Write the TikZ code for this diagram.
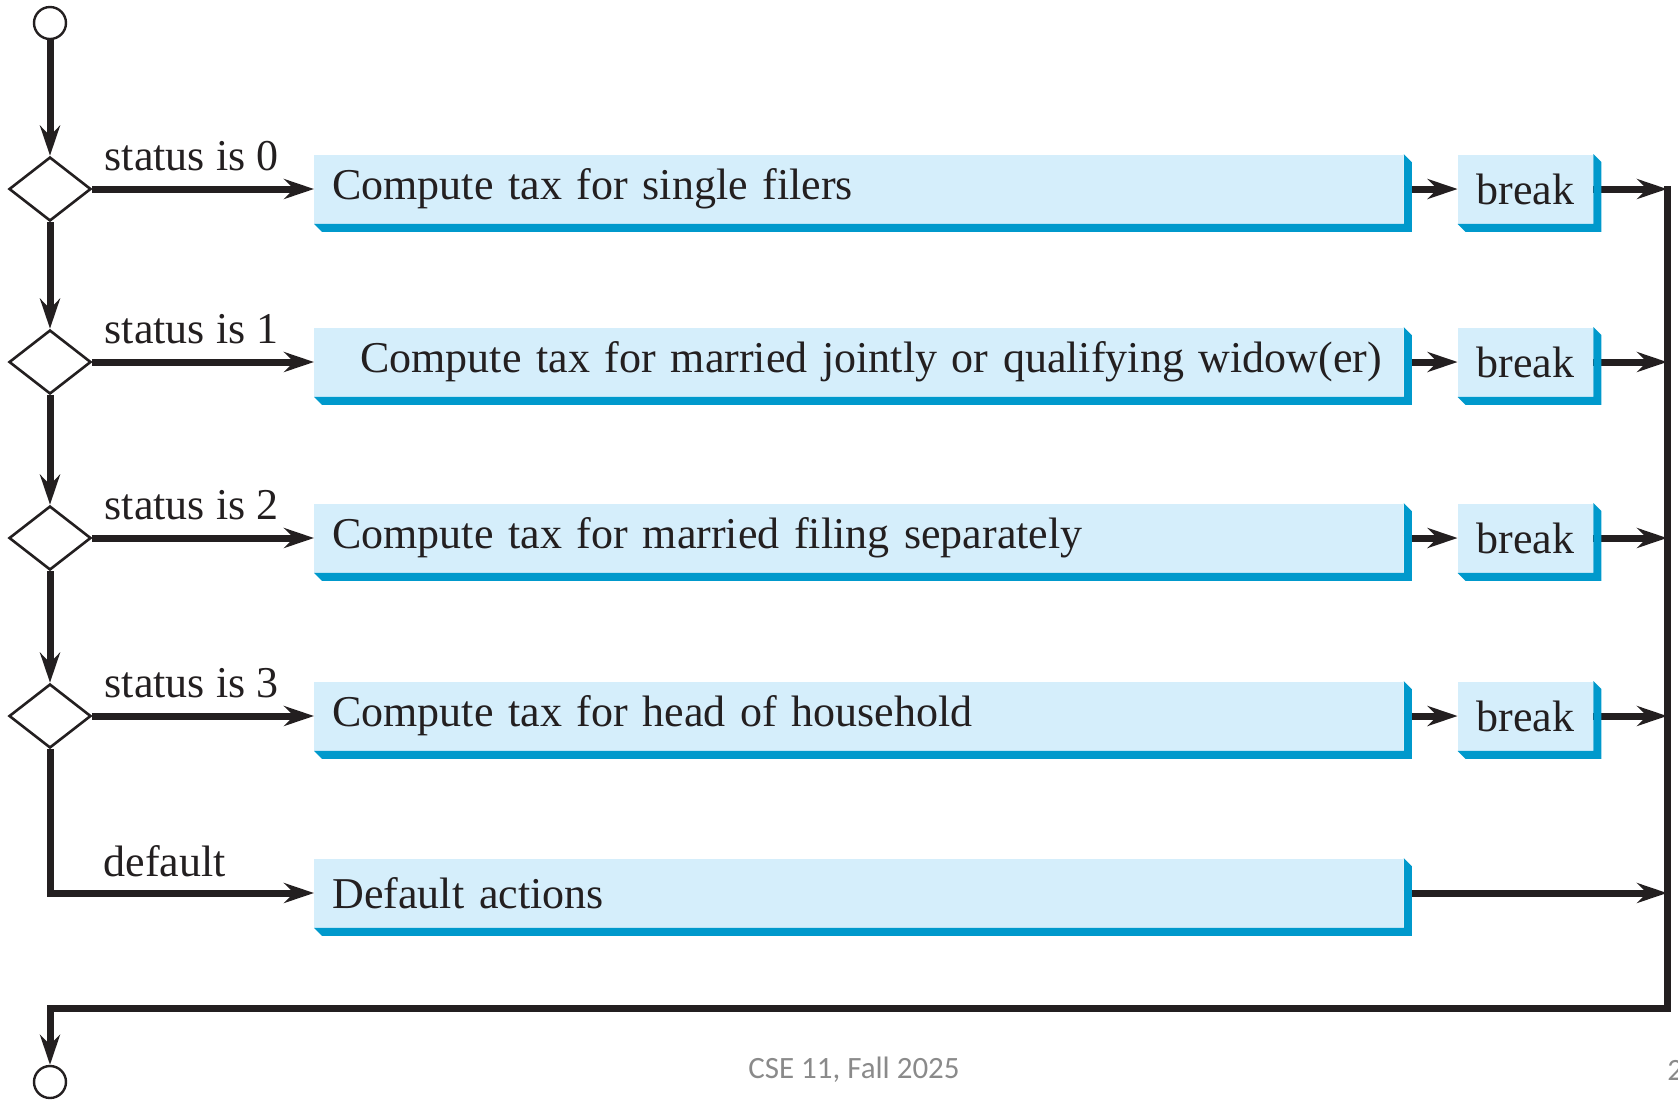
\documentclass[tikz,border=0pt]{standalone}
\usepackage{fontspec}
\setmainfont{Liberation Serif}
\newfontfamily\footfont{Carlito}
\usetikzlibrary{shapes.geometric,positioning,arrows.meta}
\definecolor{boxfill}{HTML}{D5EEFB}
\definecolor{boxedge}{HTML}{0099CC}
\definecolor{ink}{HTML}{231F20}
\definecolor{footgray}{HTML}{8A8A8A}

\tikzset{
  decision/.style={diamond, draw=ink, line width=1.3pt, minimum width=41pt, minimum height=32pt, inner sep=0pt, fill=white},
  terminal/.style={circle, draw=ink, line width=1.2pt, minimum size=16pt, inner sep=0pt},
  action/.style={fill=boxfill, text=ink, anchor=west, text width=526.5pt, inner xsep=9pt, minimum height=34.5pt, align=left, font=\fontsize{22}{26}\selectfont},
  brkbox/.style={fill=boxfill, text=ink, minimum width=67.5pt, minimum height=34.5pt, inner sep=0pt, font=\fontsize{22}{26}\selectfont},
  flow/.style={draw=ink, line width=3.5pt, -{Stealth[length=15pt,width=10pt,inset=5pt]}},
  lbl/.style={anchor=base west, text=ink, inner sep=0pt, yshift=9.5pt, font=\fontsize{22}{26}\selectfont}
}
% blue bevel along the right and bottom edges of a box
\newcommand\bevel[1]{\fill[boxedge] (#1.north east) -- ++(4pt,-4pt) -- ([shift={(4pt,-4pt)}]#1.south east) -- ([shift={(4pt,-4pt)}]#1.south west) -- (#1.south west) -- (#1.south east) -- cycle;}

\begin{document}
\begin{tikzpicture}[x=0.5pt,y=-0.5pt]
   \useasboundingbox (0,0) rectangle (1678,1100);

   \node[terminal] (start) at (50,23) {};
   \node[decision] (d0) at (50,189) {};
   \node[decision] (d1) at (50,362) {};
   \node[decision] (d2) at (50,538) {};
   \node[decision] (d3) at (50,716) {};
   \node[terminal] (stop) at (50,1082) {};

   \node[action] (a0) at (314,189) {Compute tax for single filers};
   \node[action] (a1) at (314,362) {\hspace*{14pt}\mbox{Compute tax for married jointly or qualifying widow(er)}};
   \node[action] (a2) at (314,538) {Compute tax for married filing separately};
   \node[action] (a3) at (314,716) {Compute tax for head of household};
   \node[action] (a4) at (314,893) {Default actions};

   \node[brkbox] (k0) at (1525.5,189) {break};
   \node[brkbox] (k1) at (1525.5,362) {break};
   \node[brkbox] (k2) at (1525.5,538) {break};
   \node[brkbox] (k3) at (1525.5,716) {break};

   \coordinate (rtop) at (1667,186);
   \coordinate (rbot) at (1667,1008);
   \coordinate (lbot) at (50,1008);

    \path[flow]
    (start) edge (d0)
    (d0) edge (d1)
    (d1) edge (d2)
    (d2) edge (d3)
    (d0) edge node[lbl, pos=0, xshift=4.5pt] {status is 0} (a0)
    (d1) edge node[lbl, pos=0, xshift=4.5pt] {status is 1} (a1)
    (d2) edge node[lbl, pos=0, xshift=4.5pt] {status is 2} (a2)
    (d3) edge node[lbl, pos=0, xshift=4.5pt] {status is 3} (a3)
    (a0) edge (k0)
    (a1) edge (k1)
    (a2) edge (k2)
    (a3) edge (k3)
    (k0) edge (k0 -| rtop)
    (k1) edge (k1 -| rtop)
    (k2) edge (k2 -| rtop)
    (k3) edge (k3 -| rtop)
    (a4) edge (a4 -| rtop);
   \draw[flow] (d3) |- node[lbl, pos=0.5, xshift=25pt, yshift=-1pt] {default} (a4);
   \draw[flow] (rtop) -- (rbot) -- (lbot) -- (stop);

   \bevel{a0} \bevel{a1} \bevel{a2} \bevel{a3} \bevel{a4}
   \bevel{k0} \bevel{k1} \bevel{k2} \bevel{k3}

   \node[text=footgray, font=\footfont\fontsize{15.5}{18}\selectfont] (foot) at (854,1070) {CSE 11, Fall 2025};
   \node[text=footgray, font=\footfont\fontsize{15.5}{18}\selectfont, anchor=west, inner sep=0pt] (pnum) at (1667,1070) {2};
\end{tikzpicture}
\end{document}
